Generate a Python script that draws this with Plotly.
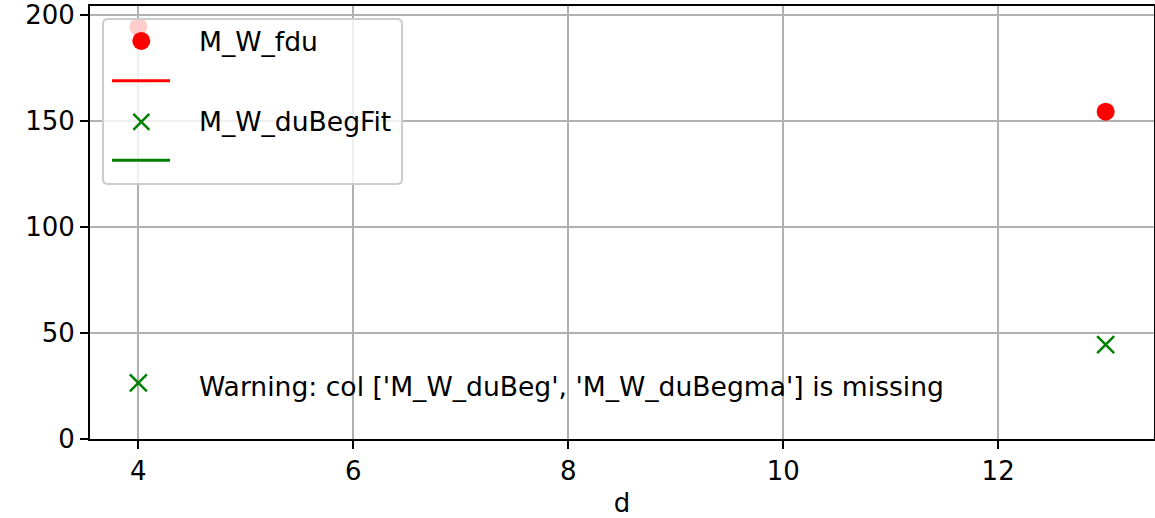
import plotly.graph_objects as go

d = [4, 13]
M_W_fdu = [194.5, 154.5]
M_W_duBegFit = [26.5, 44.5]
x_range = [3.55, 13.45]
y_range = [0, 204.4]
x_ticks = [4, 6, 8, 10, 12]
y_ticks = [0, 50, 100, 150, 200]
legend_labels = ["M_W_fdu", "M_W_duBegFit"]
warning_text = "Warning: col ['M_W_duBeg', 'M_W_duBegma'] is missing"

W, H = 1155, 518
L, R, T, B = 90, 1154, 6, 439.3
FONT = "DejaVu Sans"
FS = 26.6
TICK_FS = 26


def px(x):
    return (x - L) / (R - L)


def py(y):
    return (B - y) / (B - T)


fig = go.Figure()
fig.add_trace(go.Scatter(x=d, y=M_W_fdu, mode="markers", name=legend_labels[0],
                         marker=dict(color="red", size=18, line=dict(width=0))))
fig.add_trace(go.Scatter(x=d, y=M_W_duBegFit, mode="markers", name=legend_labels[1],
                         marker=dict(color="green", size=17, symbol="x-thin",
                                     line=dict(color="green", width=2.5))))


def px_shape(**kw):
    fig.add_shape(xref="paper", yref="paper", layer="above", **kw)


# legend box (rounded)
x0, x1, y0, y1, r = 103, 402, 19, 184, 5
pts = [(x0 + r, y0), (x1 - r, y0), (x1, y0), (x1, y0 + r), (x1, y1 - r), (x1, y1),
       (x1 - r, y1), (x0 + r, y1), (x0, y1), (x0, y1 - r), (x0, y0 + r), (x0, y0), (x0 + r, y0)]
P = [f"{px(a):.5f},{py(b):.5f}" for a, b in pts]
path = (f"M {P[0]} L {P[1]} Q {P[2]} {P[3]} L {P[4]} Q {P[5]} {P[6]} L {P[7]} "
        f"Q {P[8]} {P[9]} L {P[10]} Q {P[11]} {P[12]} Z")
px_shape(type="path", path=path, fillcolor="rgba(255,255,255,0.8)",
         line=dict(color="#cccccc", width=2))
# red dot
px_shape(type="circle", x0=px(141.3 - 9), x1=px(141.3 + 9), y0=py(41 - 9), y1=py(41 + 9),
         fillcolor="red", line=dict(width=0))
# red line
px_shape(type="line", x0=px(112), x1=px(170), y0=py(80.7), y1=py(80.7),
         line=dict(color="red", width=3))
# green x
cx, cy, h = 141.3, 122, 8
px_shape(type="line", x0=px(cx - h), x1=px(cx + h), y0=py(cy - h), y1=py(cy + h),
         line=dict(color="green", width=2.5))
px_shape(type="line", x0=px(cx - h), x1=px(cx + h), y0=py(cy + h), y1=py(cy - h),
         line=dict(color="green", width=2.5))
# green line
px_shape(type="line", x0=px(112), x1=px(170), y0=py(160.3), y1=py(160.3),
         line=dict(color="green", width=3))

for txt, yy in [(legend_labels[0], 42), (legend_labels[1], 122), (warning_text, 387)]:
    fig.add_annotation(xref="paper", yref="paper", x=px(197), y=py(yy), text=txt,
                       showarrow=False, xanchor="left", yanchor="middle",
                       font=dict(family=FONT, size=FS, color="black"))

axis_common = dict(showline=True, linecolor="black", linewidth=2, mirror=True,
                   ticks="outside", ticklen=8, tickwidth=2, tickcolor="black",
                   showgrid=True, gridcolor="#b0b0b0", gridwidth=2,
                   zeroline=False, tickfont=dict(family=FONT, size=TICK_FS, color="black"))
fig.update_layout(
    xaxis=dict(range=x_range, tickvals=x_ticks, ticktext=[str(v) for v in x_ticks],
               title=dict(text="d", font=dict(family=FONT, size=TICK_FS, color="black"), standoff=10),
               **axis_common),
    yaxis=dict(range=y_range, tickvals=y_ticks, ticktext=[str(v) for v in y_ticks],
               **axis_common),
    width=W, height=H, autosize=False, showlegend=False,
    margin=dict(l=L, r=W - R, t=T, b=H - B, pad=0, autoexpand=False),
    plot_bgcolor="white", paper_bgcolor="white",
    font=dict(family=FONT, size=FS, color="black"),
)

post = ("document.documentElement.style.overflow='hidden';"
        "document.body.style.margin='0';document.body.style.overflow='hidden';"
        "Plotly.relayout('{plot_id}', {width: 1155, height: 518});")
fig.write_html("out.html", post_script=post,
               config={"responsive": False, "displayModeBar": False})
